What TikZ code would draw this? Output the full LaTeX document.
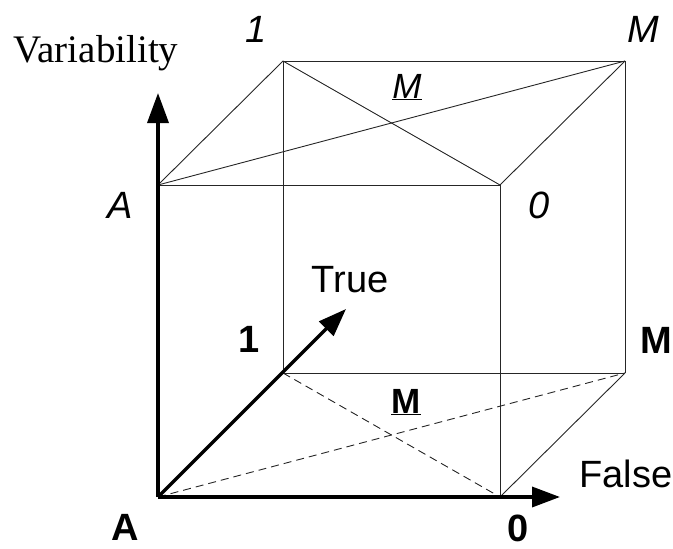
\documentclass[tikz,border=0pt]{standalone}
\usepackage{fontspec}
\setmainfont{Liberation Serif}
\newfontfamily\arialfont{Liberation Sans}
\usetikzlibrary{arrows.meta}
\begin{document}
\begin{tikzpicture}[x=1pt,y=-1pt,
  edge/.style={draw=black!85, line width=0.9pt},
  hidden/.style={edge, dash pattern=on 8pt off 5pt},
  axis/.style={draw=black, line width=3.5pt, -{Triangle[length=30pt,width=21pt]}},
  lab/.style={font=\arialfont\fontsize{38}{40}\selectfont, anchor=base, inner sep=0pt},
  ulab/.style={anchor=base, inner sep=1.5pt, fill=white}]
\useasboundingbox (0,0) rectangle (673,549);
% cube corners
\coordinate (Ab) at (158,497);
\coordinate (Ob) at (500,497);
\coordinate (Ib) at (283,373);
\coordinate (Mb) at (625,373);
\coordinate (At) at (158,185);
\coordinate (Ot) at (500,185);
\coordinate (It) at (283,61);
\coordinate (Mt) at (625,61);
% axis tips
\coordinate (ytip) at (158,93);
\coordinate (xtip) at (560,497);
\coordinate (ttip) at (346,309);
% top face
\draw[edge] (At) -- (Ot);
\draw[edge] (At) -- (It);
\draw[edge] (It) -- (Mt);
\draw[edge] (Ot) -- (Mt);
\draw[edge] (At) -- (Mt);
\draw[edge] (It) -- (Ot);
% verticals
\draw[edge] (Ib) -- (It);
\draw[edge] (Ob) -- (Ot);
\draw[edge] (Mb) -- (Mt);
% bottom face
\draw[edge] (Ib) -- (Mb);
\draw[edge] (Ob) -- (Mb);
\draw[hidden] (Ib) -- (Ob);
\draw[hidden] (Ab) -- (Mb);
% labels
\node[ulab, font=\arialfont\fontsize{35}{37}\selectfont\itshape] (mtopc) at (407,98) {\underline{M}};
\node[ulab, font=\arialfont\fontsize{35}{37}\selectfont\bfseries, fill=none] (mbotc) at (406,413) {\underline{M}};
\node[anchor=base, inner sep=0pt, font=\fontsize{39}{40}\selectfont] (var) at (96,62) {Variability};
\node[lab, font=\arialfont\fontsize{38}{40}\selectfont\itshape] (l1t) at (256,42) {1};
\node[lab, font=\arialfont\fontsize{38}{40}\selectfont\itshape] (lMt) at (643,42) {M};
\node[lab, font=\arialfont\fontsize{38}{40}\selectfont\itshape] (lAt) at (120,218) {A};
\node[lab, font=\arialfont\fontsize{38}{40}\selectfont\itshape] (lOt) at (539,218) {0};
\node[lab] (true) at (350,292) {True};
\node[lab] (false) at (626,487) {False};
\node[lab, font=\arialfont\fontsize{38}{40}\selectfont\bfseries] (l1b) at (249,352) {1};
\node[lab, font=\arialfont\fontsize{38}{40}\selectfont\bfseries] (lMb) at (656,353) {M};
\node[lab, font=\arialfont\fontsize{38}{40}\selectfont\bfseries] (lAb) at (125,540) {A};
\node[lab, font=\arialfont\fontsize{38}{40}\selectfont\bfseries] (lOb) at (518,541) {0};
% axes
\draw[axis] (Ab) -- (ytip);
\draw[axis, -{Triangle[length=28pt,width=20pt]}] (Ab) -- (xtip);
\draw[axis, -{Triangle[length=28pt,width=20pt]}] (Ab) -- (ttip);
\end{tikzpicture}
\end{document}
